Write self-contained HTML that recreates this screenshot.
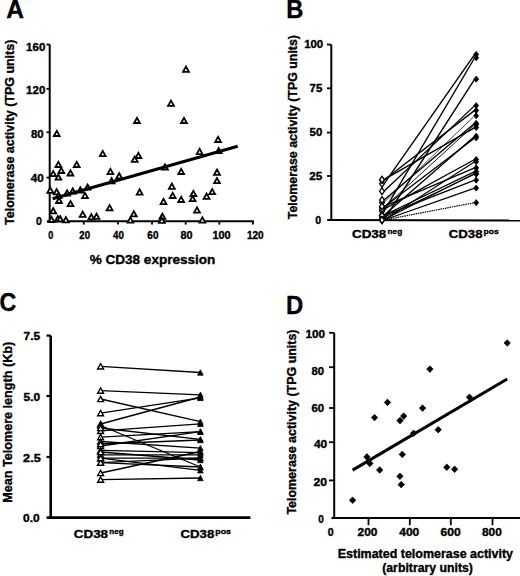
<!DOCTYPE html>
<html><head><meta charset="utf-8"><style>
html,body{margin:0;padding:0;background:#fff;width:520px;height:576px;overflow:hidden}
svg{display:block;font-family:"Liberation Sans",sans-serif}
</style></head><body>
<svg width="520" height="576" viewBox="0 0 520 576">
<rect width="520" height="576" fill="#fff"/>
<g><line x1="49.7" y1="44.5" x2="49.7" y2="222.3" stroke="#000" stroke-width="2"/><line x1="46.8" y1="221.3" x2="253.8" y2="221.3" stroke="#000" stroke-width="2"/><line x1="46.5" y1="44.5" x2="49.7" y2="44.5" stroke="#000" stroke-width="1.8"/><line x1="46.5" y1="88.8" x2="49.7" y2="88.8" stroke="#000" stroke-width="1.8"/><line x1="46.5" y1="132.3" x2="49.7" y2="132.3" stroke="#000" stroke-width="1.8"/><line x1="46.5" y1="177.6" x2="49.7" y2="177.6" stroke="#000" stroke-width="1.8"/><line x1="83.8" y1="221.3" x2="83.8" y2="224.6" stroke="#000" stroke-width="1.8"/><line x1="118.0" y1="221.3" x2="118.0" y2="224.6" stroke="#000" stroke-width="1.8"/><line x1="152.0" y1="221.3" x2="152.0" y2="224.6" stroke="#000" stroke-width="1.8"/><line x1="185.7" y1="221.3" x2="185.7" y2="224.6" stroke="#000" stroke-width="1.8"/><line x1="219.3" y1="221.3" x2="219.3" y2="224.6" stroke="#000" stroke-width="1.8"/><line x1="253.0" y1="221.3" x2="253.0" y2="224.6" stroke="#000" stroke-width="1.8"/><line x1="331.3" y1="44.6" x2="331.3" y2="220.9" stroke="#000" stroke-width="2"/><line x1="327.2" y1="220.0" x2="520" y2="220.5" stroke="#000" stroke-width="2"/><line x1="327.0" y1="44.6" x2="331.3" y2="44.6" stroke="#000" stroke-width="1.8"/><line x1="327.0" y1="88.3" x2="331.3" y2="88.3" stroke="#000" stroke-width="1.8"/><line x1="327.0" y1="132.6" x2="331.3" y2="132.6" stroke="#000" stroke-width="1.8"/><line x1="327.0" y1="176.0" x2="331.3" y2="176.0" stroke="#000" stroke-width="1.8"/><line x1="50.7" y1="335.6" x2="50.7" y2="518.8" stroke="#000" stroke-width="2.6"/><line x1="46.5" y1="517.6" x2="250.4" y2="517.6" stroke="#000" stroke-width="2.6"/><line x1="46.5" y1="335.6" x2="50.7" y2="335.6" stroke="#000" stroke-width="2.2"/><line x1="46.5" y1="396.0" x2="50.7" y2="396.0" stroke="#000" stroke-width="2.2"/><line x1="46.5" y1="457.0" x2="50.7" y2="457.0" stroke="#000" stroke-width="2.2"/><line x1="334.2" y1="332.8" x2="334.2" y2="519.0" stroke="#000" stroke-width="2"/><line x1="331.5" y1="518.0" x2="520" y2="518.0" stroke="#000" stroke-width="2"/><line x1="329.0" y1="332.8" x2="334.2" y2="332.8" stroke="#000" stroke-width="1.8"/><line x1="329.0" y1="367.2" x2="334.2" y2="367.2" stroke="#000" stroke-width="1.8"/><line x1="329.0" y1="408.0" x2="334.2" y2="408.0" stroke="#000" stroke-width="1.8"/><line x1="329.0" y1="442.2" x2="334.2" y2="442.2" stroke="#000" stroke-width="1.8"/><line x1="329.0" y1="480.4" x2="334.2" y2="480.4" stroke="#000" stroke-width="1.8"/><line x1="368.5" y1="518" x2="368.5" y2="525.2" stroke="#000" stroke-width="1.8"/><line x1="409.8" y1="518" x2="409.8" y2="525.2" stroke="#000" stroke-width="1.8"/><line x1="450.8" y1="518" x2="450.8" y2="525.2" stroke="#000" stroke-width="1.8"/><line x1="492.5" y1="518" x2="492.5" y2="525.2" stroke="#000" stroke-width="1.8"/></g>
<g><path d="M382.00 180.57 L384.40 183.87 L382.00 187.17 L379.60 183.87 Z" fill="#fff" stroke="#000" stroke-width="1.3"/><path d="M382.00 207.93 L384.40 211.23 L382.00 214.53 L379.60 211.23 Z" fill="#fff" stroke="#000" stroke-width="1.3"/><path d="M382.00 216.70 L384.40 220.00 L382.00 223.30 L379.60 220.00 Z" fill="#fff" stroke="#000" stroke-width="1.3"/><path d="M382.00 187.93 L384.40 191.23 L382.00 194.53 L379.60 191.23 Z" fill="#fff" stroke="#000" stroke-width="1.3"/><path d="M382.00 176.71 L384.40 180.01 L382.00 183.31 L379.60 180.01 Z" fill="#fff" stroke="#000" stroke-width="1.3"/><path d="M382.00 199.16 L384.40 202.46 L382.00 205.76 L379.60 202.46 Z" fill="#fff" stroke="#000" stroke-width="1.3"/><path d="M382.00 196.70 L384.40 200.00 L382.00 203.30 L379.60 200.00 Z" fill="#fff" stroke="#000" stroke-width="1.3"/><path d="M382.00 204.07 L384.40 207.37 L382.00 210.67 L379.60 207.37 Z" fill="#fff" stroke="#000" stroke-width="1.3"/><path d="M382.00 176.36 L384.40 179.66 L382.00 182.96 L379.60 179.66 Z" fill="#fff" stroke="#000" stroke-width="1.3"/><path d="M382.00 211.96 L384.40 215.26 L382.00 218.56 L379.60 215.26 Z" fill="#fff" stroke="#000" stroke-width="1.3"/><path d="M382.00 203.72 L384.40 207.02 L382.00 210.32 L379.60 207.02 Z" fill="#fff" stroke="#000" stroke-width="1.3"/><path d="M382.00 205.83 L384.40 209.13 L382.00 212.43 L379.60 209.13 Z" fill="#fff" stroke="#000" stroke-width="1.3"/><path d="M382.00 216.70 L384.40 220.00 L382.00 223.30 L379.60 220.00 Z" fill="#fff" stroke="#000" stroke-width="1.3"/><path d="M382.00 203.02 L384.40 206.32 L382.00 209.62 L379.60 206.32 Z" fill="#fff" stroke="#000" stroke-width="1.3"/><path d="M382.00 211.96 L384.40 215.26 L382.00 218.56 L379.60 215.26 Z" fill="#fff" stroke="#000" stroke-width="1.3"/><path d="M382.00 216.17 L384.40 219.47 L382.00 222.77 L379.60 219.47 Z" fill="#fff" stroke="#000" stroke-width="1.3"/><path d="M382.00 214.07 L384.40 217.37 L382.00 220.67 L379.60 217.37 Z" fill="#fff" stroke="#000" stroke-width="1.3"/><path d="M382.00 212.31 L384.40 215.62 L382.00 218.92 L379.60 215.62 Z" fill="#fff" stroke="#000" stroke-width="1.3"/><path d="M382.00 216.70 L384.40 220.00 L382.00 223.30 L379.60 220.00 Z" fill="#fff" stroke="#000" stroke-width="1.3"/><path d="M382.00 216.70 L384.40 220.00 L382.00 223.30 L379.60 220.00 Z" fill="#fff" stroke="#000" stroke-width="1.3"/></g>
<g><line x1="384.0" y1="183.87" x2="474.7" y2="54.42" stroke="#000" stroke-width="1.4"/><line x1="384.0" y1="211.23" x2="474.7" y2="57.75" stroke="#000" stroke-width="1.4"/><line x1="384.0" y1="220.00" x2="474.7" y2="79.15" stroke="#000" stroke-width="1.4"/><line x1="384.0" y1="191.23" x2="474.7" y2="105.64" stroke="#000" stroke-width="1.3"/><line x1="384.0" y1="180.01" x2="474.7" y2="110.38" stroke="#000" stroke-width="1.4"/><line x1="384.0" y1="202.46" x2="474.7" y2="115.81" stroke="#000" stroke-width="0.7"/><line x1="384.0" y1="200.00" x2="474.7" y2="123.35" stroke="#000" stroke-width="1.3"/><line x1="384.0" y1="207.37" x2="474.7" y2="124.76" stroke="#000" stroke-width="0.9"/><line x1="384.0" y1="179.66" x2="474.7" y2="127.56" stroke="#000" stroke-width="1.4"/><line x1="384.0" y1="215.26" x2="474.7" y2="136.16" stroke="#000" stroke-width="1.3"/><line x1="384.0" y1="207.02" x2="474.7" y2="137.91" stroke="#000" stroke-width="1.3"/><line x1="384.0" y1="209.13" x2="474.7" y2="159.49" stroke="#000" stroke-width="1.3"/><line x1="384.0" y1="220.00" x2="474.7" y2="161.77" stroke="#000" stroke-width="1.1"/><line x1="384.0" y1="206.32" x2="474.7" y2="167.91" stroke="#000" stroke-width="1.3"/><line x1="384.0" y1="215.26" x2="474.7" y2="171.59" stroke="#000" stroke-width="1.3"/><line x1="384.0" y1="219.47" x2="474.7" y2="173.52" stroke="#000" stroke-width="1.3"/><line x1="384.0" y1="217.37" x2="474.7" y2="174.22" stroke="#000" stroke-width="1.0"/><line x1="384.0" y1="215.62" x2="474.7" y2="180.18" stroke="#000" stroke-width="1.3"/><line x1="384.0" y1="220.00" x2="474.7" y2="188.08" stroke="#000" stroke-width="1.3"/><line x1="384.0" y1="220.00" x2="474.7" y2="202.64" stroke="#000" stroke-width="1.2" stroke-dasharray="1.5 0.8"/></g>
<g><line x1="100.6" y1="366.3" x2="200.4" y2="372.5" stroke="#000" stroke-width="1.35"/><line x1="100.6" y1="390.6" x2="200.4" y2="394.8" stroke="#000" stroke-width="1.35"/><line x1="100.6" y1="399.0" x2="200.4" y2="421.7" stroke="#000" stroke-width="1.35"/><line x1="100.6" y1="413.1" x2="200.4" y2="397.9" stroke="#000" stroke-width="1.35"/><line x1="100.6" y1="424.0" x2="200.4" y2="397.0" stroke="#000" stroke-width="1.35"/><line x1="100.6" y1="479.6" x2="200.4" y2="478.0" stroke="#000" stroke-width="1.35"/><line x1="100.6" y1="473.0" x2="200.4" y2="451.5" stroke="#000" stroke-width="1.35"/><line x1="100.6" y1="425.5" x2="200.4" y2="467.0" stroke="#000" stroke-width="1.35"/><line x1="100.6" y1="430.9" x2="200.4" y2="423.8" stroke="#000" stroke-width="1.35"/><line x1="100.6" y1="437.1" x2="200.4" y2="431.6" stroke="#000" stroke-width="1.35"/><line x1="100.6" y1="428.0" x2="200.4" y2="439.3" stroke="#000" stroke-width="1.35"/><line x1="100.6" y1="441.5" x2="200.4" y2="448.2" stroke="#000" stroke-width="1.35"/><line x1="100.6" y1="446.0" x2="200.4" y2="431.6" stroke="#000" stroke-width="1.35"/><line x1="100.6" y1="444.0" x2="200.4" y2="440.0" stroke="#000" stroke-width="1.35"/><line x1="100.6" y1="450.4" x2="200.4" y2="452.6" stroke="#000" stroke-width="1.35"/><line x1="100.6" y1="454.8" x2="200.4" y2="454.8" stroke="#000" stroke-width="1.35"/><line x1="100.6" y1="452.0" x2="200.4" y2="460.0" stroke="#000" stroke-width="1.35"/><line x1="100.6" y1="458.1" x2="200.4" y2="458.1" stroke="#000" stroke-width="1.35"/><line x1="100.6" y1="462.6" x2="200.4" y2="458.1" stroke="#000" stroke-width="1.35"/><line x1="100.6" y1="462.6" x2="200.4" y2="467.0" stroke="#000" stroke-width="1.35"/><line x1="100.6" y1="458.1" x2="200.4" y2="470.3" stroke="#000" stroke-width="1.35"/></g>
<g><path d="M55.50 167.00 L58.40 161.80 L61.30 167.00 Z" fill="#fff" stroke="#000" stroke-width="1.8" stroke-linejoin="miter"/><path d="M73.80 167.00 L76.70 161.80 L79.60 167.00 Z" fill="#fff" stroke="#000" stroke-width="1.8" stroke-linejoin="miter"/><path d="M58.40 173.00 L61.30 167.80 L64.20 173.00 Z" fill="#fff" stroke="#000" stroke-width="1.8" stroke-linejoin="miter"/><path d="M50.30 176.20 L53.20 171.00 L56.10 176.20 Z" fill="#fff" stroke="#000" stroke-width="1.8" stroke-linejoin="miter"/><path d="M67.60 175.50 L70.50 170.30 L73.40 175.50 Z" fill="#fff" stroke="#000" stroke-width="1.8" stroke-linejoin="miter"/><path d="M55.50 179.70 L58.40 174.50 L61.30 179.70 Z" fill="#fff" stroke="#000" stroke-width="1.8" stroke-linejoin="miter"/><path d="M47.40 192.80 L50.30 187.60 L53.20 192.80 Z" fill="#fff" stroke="#000" stroke-width="1.8" stroke-linejoin="miter"/><path d="M53.80 194.30 L56.70 189.10 L59.60 194.30 Z" fill="#fff" stroke="#000" stroke-width="1.8" stroke-linejoin="miter"/><path d="M64.20 195.50 L67.10 190.30 L70.00 195.50 Z" fill="#fff" stroke="#000" stroke-width="1.8" stroke-linejoin="miter"/><path d="M69.90 193.50 L72.80 188.30 L75.70 193.50 Z" fill="#fff" stroke="#000" stroke-width="1.8" stroke-linejoin="miter"/><path d="M77.40 192.60 L80.30 187.40 L83.20 192.60 Z" fill="#fff" stroke="#000" stroke-width="1.8" stroke-linejoin="miter"/><path d="M84.70 189.70 L87.60 184.50 L90.50 189.70 Z" fill="#fff" stroke="#000" stroke-width="1.8" stroke-linejoin="miter"/><path d="M82.10 198.10 L85.00 192.90 L87.90 198.10 Z" fill="#fff" stroke="#000" stroke-width="1.8" stroke-linejoin="miter"/><path d="M55.70 198.20 L58.60 193.00 L61.50 198.20 Z" fill="#fff" stroke="#000" stroke-width="1.8" stroke-linejoin="miter"/><path d="M56.10 203.00 L59.00 197.80 L61.90 203.00 Z" fill="#fff" stroke="#000" stroke-width="1.8" stroke-linejoin="miter"/><path d="M67.60 206.20 L70.50 201.00 L73.40 206.20 Z" fill="#fff" stroke="#000" stroke-width="1.8" stroke-linejoin="miter"/><path d="M50.30 213.40 L53.20 208.20 L56.10 213.40 Z" fill="#fff" stroke="#000" stroke-width="1.8" stroke-linejoin="miter"/><path d="M79.80 216.80 L82.70 211.60 L85.60 216.80 Z" fill="#fff" stroke="#000" stroke-width="1.8" stroke-linejoin="miter"/><path d="M88.40 219.40 L91.30 214.20 L94.20 219.40 Z" fill="#fff" stroke="#000" stroke-width="1.8" stroke-linejoin="miter"/><path d="M93.60 218.90 L96.50 213.70 L99.40 218.90 Z" fill="#fff" stroke="#000" stroke-width="1.8" stroke-linejoin="miter"/><path d="M48.60 222.00 L51.50 216.80 L54.40 222.00 Z" fill="#fff" stroke="#000" stroke-width="1.8" stroke-linejoin="miter"/><path d="M54.90 221.40 L57.80 216.20 L60.70 221.40 Z" fill="#fff" stroke="#000" stroke-width="1.8" stroke-linejoin="miter"/><path d="M57.30 221.40 L60.20 216.20 L63.10 221.40 Z" fill="#fff" stroke="#000" stroke-width="1.8" stroke-linejoin="miter"/><path d="M63.00 222.30 L65.90 217.10 L68.80 222.30 Z" fill="#fff" stroke="#000" stroke-width="1.8" stroke-linejoin="miter"/><path d="M53.90 136.00 L56.80 130.80 L59.70 136.00 Z" fill="#fff" stroke="#000" stroke-width="1.8" stroke-linejoin="miter"/><path d="M99.80 156.10 L102.70 150.90 L105.60 156.10 Z" fill="#fff" stroke="#000" stroke-width="1.8" stroke-linejoin="miter"/><path d="M135.50 158.00 L138.40 152.80 L141.30 158.00 Z" fill="#fff" stroke="#000" stroke-width="1.8" stroke-linejoin="miter"/><path d="M131.80 161.80 L134.70 156.60 L137.60 161.80 Z" fill="#fff" stroke="#000" stroke-width="1.8" stroke-linejoin="miter"/><path d="M107.50 174.10 L110.40 168.90 L113.30 174.10 Z" fill="#fff" stroke="#000" stroke-width="1.8" stroke-linejoin="miter"/><path d="M116.30 178.40 L119.20 173.20 L122.10 178.40 Z" fill="#fff" stroke="#000" stroke-width="1.8" stroke-linejoin="miter"/><path d="M108.70 183.40 L111.60 178.20 L114.50 183.40 Z" fill="#fff" stroke="#000" stroke-width="1.8" stroke-linejoin="miter"/><path d="M136.70 194.60 L139.60 189.40 L142.50 194.60 Z" fill="#fff" stroke="#000" stroke-width="1.8" stroke-linejoin="miter"/><path d="M106.70 210.30 L109.60 205.10 L112.50 210.30 Z" fill="#fff" stroke="#000" stroke-width="1.8" stroke-linejoin="miter"/><path d="M130.90 216.40 L133.80 211.20 L136.70 216.40 Z" fill="#fff" stroke="#000" stroke-width="1.8" stroke-linejoin="miter"/><path d="M127.50 222.60 L130.40 217.40 L133.30 222.60 Z" fill="#fff" stroke="#000" stroke-width="1.8" stroke-linejoin="miter"/><path d="M134.10 123.00 L137.00 117.80 L139.90 123.00 Z" fill="#fff" stroke="#000" stroke-width="1.8" stroke-linejoin="miter"/><path d="M162.10 169.50 L165.00 164.30 L167.90 169.50 Z" fill="#fff" stroke="#000" stroke-width="1.8" stroke-linejoin="miter"/><path d="M169.00 188.80 L171.90 183.60 L174.80 188.80 Z" fill="#fff" stroke="#000" stroke-width="1.8" stroke-linejoin="miter"/><path d="M169.80 198.00 L172.70 192.80 L175.60 198.00 Z" fill="#fff" stroke="#000" stroke-width="1.8" stroke-linejoin="miter"/><path d="M160.60 204.10 L163.50 198.90 L166.40 204.10 Z" fill="#fff" stroke="#000" stroke-width="1.8" stroke-linejoin="miter"/><path d="M159.50 218.80 L162.40 213.60 L165.30 218.80 Z" fill="#fff" stroke="#000" stroke-width="1.8" stroke-linejoin="miter"/><path d="M159.00 222.90 L161.90 217.70 L164.80 222.90 Z" fill="#fff" stroke="#000" stroke-width="1.8" stroke-linejoin="miter"/><path d="M181.10 123.00 L184.00 117.80 L186.90 123.00 Z" fill="#fff" stroke="#000" stroke-width="1.8" stroke-linejoin="miter"/><path d="M215.20 142.00 L218.10 136.80 L221.00 142.00 Z" fill="#fff" stroke="#000" stroke-width="1.8" stroke-linejoin="miter"/><path d="M196.70 154.10 L199.60 148.90 L202.50 154.10 Z" fill="#fff" stroke="#000" stroke-width="1.8" stroke-linejoin="miter"/><path d="M215.80 153.20 L218.70 148.00 L221.60 153.20 Z" fill="#fff" stroke="#000" stroke-width="1.8" stroke-linejoin="miter"/><path d="M178.30 174.00 L181.20 168.80 L184.10 174.00 Z" fill="#fff" stroke="#000" stroke-width="1.8" stroke-linejoin="miter"/><path d="M214.10 174.80 L217.00 169.60 L219.90 174.80 Z" fill="#fff" stroke="#000" stroke-width="1.8" stroke-linejoin="miter"/><path d="M214.10 183.20 L217.00 178.00 L219.90 183.20 Z" fill="#fff" stroke="#000" stroke-width="1.8" stroke-linejoin="miter"/><path d="M190.50 196.00 L193.40 190.80 L196.30 196.00 Z" fill="#fff" stroke="#000" stroke-width="1.8" stroke-linejoin="miter"/><path d="M189.70 201.20 L192.60 196.00 L195.50 201.20 Z" fill="#fff" stroke="#000" stroke-width="1.8" stroke-linejoin="miter"/><path d="M178.30 202.00 L181.20 196.80 L184.10 202.00 Z" fill="#fff" stroke="#000" stroke-width="1.8" stroke-linejoin="miter"/><path d="M203.70 198.80 L206.60 193.60 L209.50 198.80 Z" fill="#fff" stroke="#000" stroke-width="1.8" stroke-linejoin="miter"/><path d="M209.30 194.20 L212.20 189.00 L215.10 194.20 Z" fill="#fff" stroke="#000" stroke-width="1.8" stroke-linejoin="miter"/><path d="M194.10 212.60 L197.00 207.40 L199.90 212.60 Z" fill="#fff" stroke="#000" stroke-width="1.8" stroke-linejoin="miter"/><path d="M199.50 222.60 L202.40 217.40 L205.30 222.60 Z" fill="#fff" stroke="#000" stroke-width="1.8" stroke-linejoin="miter"/><path d="M183.10 71.80 L186.00 66.60 L188.90 71.80 Z" fill="#fff" stroke="#000" stroke-width="1.8" stroke-linejoin="miter"/><path d="M168.10 105.80 L171.00 100.60 L173.90 105.80 Z" fill="#fff" stroke="#000" stroke-width="1.8" stroke-linejoin="miter"/></g>
<line x1="52.6" y1="198.8" x2="237.7" y2="146.3" stroke="#000" stroke-width="3"/>
<g><path d="M476.20 51.42 L478.60 54.42 L476.20 57.42 L473.80 54.42 Z" fill="#000" stroke="#000" stroke-width="0.9"/><path d="M476.20 54.75 L478.60 57.75 L476.20 60.75 L473.80 57.75 Z" fill="#000" stroke="#000" stroke-width="0.9"/><path d="M476.20 76.15 L478.60 79.15 L476.20 82.15 L473.80 79.15 Z" fill="#000" stroke="#000" stroke-width="0.9"/><path d="M476.20 102.64 L478.60 105.64 L476.20 108.64 L473.80 105.64 Z" fill="#000" stroke="#000" stroke-width="0.9"/><path d="M476.20 107.38 L478.60 110.38 L476.20 113.38 L473.80 110.38 Z" fill="#000" stroke="#000" stroke-width="0.9"/><path d="M476.20 112.81 L478.60 115.81 L476.20 118.81 L473.80 115.81 Z" fill="#000" stroke="#000" stroke-width="0.9"/><path d="M476.20 120.35 L478.60 123.35 L476.20 126.35 L473.80 123.35 Z" fill="#000" stroke="#000" stroke-width="0.9"/><path d="M476.20 121.76 L478.60 124.76 L476.20 127.76 L473.80 124.76 Z" fill="#000" stroke="#000" stroke-width="0.9"/><path d="M476.20 124.56 L478.60 127.56 L476.20 130.56 L473.80 127.56 Z" fill="#000" stroke="#000" stroke-width="0.9"/><path d="M476.20 133.16 L478.60 136.16 L476.20 139.16 L473.80 136.16 Z" fill="#000" stroke="#000" stroke-width="0.9"/><path d="M476.20 134.91 L478.60 137.91 L476.20 140.91 L473.80 137.91 Z" fill="#000" stroke="#000" stroke-width="0.9"/><path d="M476.20 156.49 L478.60 159.49 L476.20 162.49 L473.80 159.49 Z" fill="#000" stroke="#000" stroke-width="0.9"/><path d="M476.20 158.77 L478.60 161.77 L476.20 164.77 L473.80 161.77 Z" fill="#000" stroke="#000" stroke-width="0.9"/><path d="M476.20 164.91 L478.60 167.91 L476.20 170.91 L473.80 167.91 Z" fill="#000" stroke="#000" stroke-width="0.9"/><path d="M476.20 168.59 L478.60 171.59 L476.20 174.59 L473.80 171.59 Z" fill="#000" stroke="#000" stroke-width="0.9"/><path d="M476.20 170.52 L478.60 173.52 L476.20 176.52 L473.80 173.52 Z" fill="#000" stroke="#000" stroke-width="0.9"/><path d="M476.20 171.22 L478.60 174.22 L476.20 177.22 L473.80 174.22 Z" fill="#000" stroke="#000" stroke-width="0.9"/><path d="M476.20 177.18 L478.60 180.18 L476.20 183.18 L473.80 180.18 Z" fill="#000" stroke="#000" stroke-width="0.9"/><path d="M476.20 185.08 L478.60 188.08 L476.20 191.08 L473.80 188.08 Z" fill="#000" stroke="#000" stroke-width="0.9"/><path d="M476.20 199.64 L478.60 202.64 L476.20 205.64 L473.80 202.64 Z" fill="#000" stroke="#000" stroke-width="0.9"/></g>
<g><path d="M97.65 368.95 L100.60 363.65 L103.55 368.95 Z" fill="#fff" stroke="#000" stroke-width="1.4" stroke-linejoin="miter"/><path d="M97.65 393.25 L100.60 387.95 L103.55 393.25 Z" fill="#fff" stroke="#000" stroke-width="1.4" stroke-linejoin="miter"/><path d="M97.65 401.65 L100.60 396.35 L103.55 401.65 Z" fill="#fff" stroke="#000" stroke-width="1.4" stroke-linejoin="miter"/><path d="M97.65 415.75 L100.60 410.45 L103.55 415.75 Z" fill="#fff" stroke="#000" stroke-width="1.4" stroke-linejoin="miter"/><path d="M97.65 426.65 L100.60 421.35 L103.55 426.65 Z" fill="#fff" stroke="#000" stroke-width="1.4" stroke-linejoin="miter"/><path d="M97.65 482.25 L100.60 476.95 L103.55 482.25 Z" fill="#fff" stroke="#000" stroke-width="1.4" stroke-linejoin="miter"/><path d="M97.65 475.65 L100.60 470.35 L103.55 475.65 Z" fill="#fff" stroke="#000" stroke-width="1.4" stroke-linejoin="miter"/><path d="M97.65 428.15 L100.60 422.85 L103.55 428.15 Z" fill="#fff" stroke="#000" stroke-width="1.4" stroke-linejoin="miter"/><path d="M97.65 433.55 L100.60 428.25 L103.55 433.55 Z" fill="#fff" stroke="#000" stroke-width="1.4" stroke-linejoin="miter"/><path d="M97.65 439.75 L100.60 434.45 L103.55 439.75 Z" fill="#fff" stroke="#000" stroke-width="1.4" stroke-linejoin="miter"/><path d="M97.65 430.65 L100.60 425.35 L103.55 430.65 Z" fill="#fff" stroke="#000" stroke-width="1.4" stroke-linejoin="miter"/><path d="M97.65 444.15 L100.60 438.85 L103.55 444.15 Z" fill="#fff" stroke="#000" stroke-width="1.4" stroke-linejoin="miter"/><path d="M97.65 448.65 L100.60 443.35 L103.55 448.65 Z" fill="#fff" stroke="#000" stroke-width="1.4" stroke-linejoin="miter"/><path d="M97.65 446.65 L100.60 441.35 L103.55 446.65 Z" fill="#fff" stroke="#000" stroke-width="1.4" stroke-linejoin="miter"/><path d="M97.65 453.05 L100.60 447.75 L103.55 453.05 Z" fill="#fff" stroke="#000" stroke-width="1.4" stroke-linejoin="miter"/><path d="M97.65 457.45 L100.60 452.15 L103.55 457.45 Z" fill="#fff" stroke="#000" stroke-width="1.4" stroke-linejoin="miter"/><path d="M97.65 454.65 L100.60 449.35 L103.55 454.65 Z" fill="#fff" stroke="#000" stroke-width="1.4" stroke-linejoin="miter"/><path d="M97.65 460.75 L100.60 455.45 L103.55 460.75 Z" fill="#fff" stroke="#000" stroke-width="1.4" stroke-linejoin="miter"/><path d="M97.65 465.25 L100.60 459.95 L103.55 465.25 Z" fill="#fff" stroke="#000" stroke-width="1.4" stroke-linejoin="miter"/><path d="M97.65 465.25 L100.60 459.95 L103.55 465.25 Z" fill="#fff" stroke="#000" stroke-width="1.4" stroke-linejoin="miter"/><path d="M97.65 460.75 L100.60 455.45 L103.55 460.75 Z" fill="#fff" stroke="#000" stroke-width="1.4" stroke-linejoin="miter"/><path d="M197.60 375.20 L200.40 369.80 L203.20 375.20 Z" fill="#000" stroke="#000" stroke-width="0.8" stroke-linejoin="miter"/><path d="M197.60 397.50 L200.40 392.10 L203.20 397.50 Z" fill="#000" stroke="#000" stroke-width="0.8" stroke-linejoin="miter"/><path d="M197.60 424.40 L200.40 419.00 L203.20 424.40 Z" fill="#000" stroke="#000" stroke-width="0.8" stroke-linejoin="miter"/><path d="M197.60 400.60 L200.40 395.20 L203.20 400.60 Z" fill="#000" stroke="#000" stroke-width="0.8" stroke-linejoin="miter"/><path d="M197.60 399.70 L200.40 394.30 L203.20 399.70 Z" fill="#000" stroke="#000" stroke-width="0.8" stroke-linejoin="miter"/><path d="M197.60 480.70 L200.40 475.30 L203.20 480.70 Z" fill="#000" stroke="#000" stroke-width="0.8" stroke-linejoin="miter"/><path d="M197.60 454.20 L200.40 448.80 L203.20 454.20 Z" fill="#000" stroke="#000" stroke-width="0.8" stroke-linejoin="miter"/><path d="M197.60 469.70 L200.40 464.30 L203.20 469.70 Z" fill="#000" stroke="#000" stroke-width="0.8" stroke-linejoin="miter"/><path d="M197.60 426.50 L200.40 421.10 L203.20 426.50 Z" fill="#000" stroke="#000" stroke-width="0.8" stroke-linejoin="miter"/><path d="M197.60 434.30 L200.40 428.90 L203.20 434.30 Z" fill="#000" stroke="#000" stroke-width="0.8" stroke-linejoin="miter"/><path d="M197.60 442.00 L200.40 436.60 L203.20 442.00 Z" fill="#000" stroke="#000" stroke-width="0.8" stroke-linejoin="miter"/><path d="M197.60 450.90 L200.40 445.50 L203.20 450.90 Z" fill="#000" stroke="#000" stroke-width="0.8" stroke-linejoin="miter"/><path d="M197.60 434.30 L200.40 428.90 L203.20 434.30 Z" fill="#000" stroke="#000" stroke-width="0.8" stroke-linejoin="miter"/><path d="M197.60 442.70 L200.40 437.30 L203.20 442.70 Z" fill="#000" stroke="#000" stroke-width="0.8" stroke-linejoin="miter"/><path d="M197.60 455.30 L200.40 449.90 L203.20 455.30 Z" fill="#000" stroke="#000" stroke-width="0.8" stroke-linejoin="miter"/><path d="M197.60 457.50 L200.40 452.10 L203.20 457.50 Z" fill="#000" stroke="#000" stroke-width="0.8" stroke-linejoin="miter"/><path d="M197.60 462.70 L200.40 457.30 L203.20 462.70 Z" fill="#000" stroke="#000" stroke-width="0.8" stroke-linejoin="miter"/><path d="M197.60 460.80 L200.40 455.40 L203.20 460.80 Z" fill="#000" stroke="#000" stroke-width="0.8" stroke-linejoin="miter"/><path d="M197.60 460.80 L200.40 455.40 L203.20 460.80 Z" fill="#000" stroke="#000" stroke-width="0.8" stroke-linejoin="miter"/><path d="M197.60 469.70 L200.40 464.30 L203.20 469.70 Z" fill="#000" stroke="#000" stroke-width="0.8" stroke-linejoin="miter"/><path d="M197.60 473.00 L200.40 467.60 L203.20 473.00 Z" fill="#000" stroke="#000" stroke-width="0.8" stroke-linejoin="miter"/></g>
<line x1="352.6" y1="470.1" x2="507.2" y2="379.0" stroke="#000" stroke-width="3"/>
<g><path d="M352.60 496.90 L355.80 500.20 L352.60 503.50 L349.40 500.20 Z" fill="#000" stroke="#000" stroke-width="0.7"/><path d="M366.90 453.60 L370.10 456.90 L366.90 460.20 L363.70 456.90 Z" fill="#000" stroke="#000" stroke-width="0.7"/><path d="M369.80 460.10 L373.00 463.40 L369.80 466.70 L366.60 463.40 Z" fill="#000" stroke="#000" stroke-width="0.7"/><path d="M374.50 414.30 L377.70 417.60 L374.50 420.90 L371.30 417.60 Z" fill="#000" stroke="#000" stroke-width="0.7"/><path d="M379.70 466.70 L382.90 470.00 L379.70 473.30 L376.50 470.00 Z" fill="#000" stroke="#000" stroke-width="0.7"/><path d="M387.50 399.10 L390.70 402.40 L387.50 405.70 L384.30 402.40 Z" fill="#000" stroke="#000" stroke-width="0.7"/><path d="M399.90 473.00 L403.10 476.30 L399.90 479.60 L396.70 476.30 Z" fill="#000" stroke="#000" stroke-width="0.7"/><path d="M401.20 481.30 L404.40 484.60 L401.20 487.90 L398.00 484.60 Z" fill="#000" stroke="#000" stroke-width="0.7"/><path d="M400.00 417.30 L403.20 420.60 L400.00 423.90 L396.80 420.60 Z" fill="#000" stroke="#000" stroke-width="0.7"/><path d="M403.70 412.80 L406.90 416.10 L403.70 419.40 L400.50 416.10 Z" fill="#000" stroke="#000" stroke-width="0.7"/><path d="M402.30 451.10 L405.50 454.40 L402.30 457.70 L399.10 454.40 Z" fill="#000" stroke="#000" stroke-width="0.7"/><path d="M413.60 430.00 L416.80 433.30 L413.60 436.60 L410.40 433.30 Z" fill="#000" stroke="#000" stroke-width="0.7"/><path d="M422.60 404.80 L425.80 408.10 L422.60 411.40 L419.40 408.10 Z" fill="#000" stroke="#000" stroke-width="0.7"/><path d="M429.90 365.80 L433.10 369.10 L429.90 372.40 L426.70 369.10 Z" fill="#000" stroke="#000" stroke-width="0.7"/><path d="M438.20 426.40 L441.40 429.70 L438.20 433.00 L435.00 429.70 Z" fill="#000" stroke="#000" stroke-width="0.7"/><path d="M446.80 463.90 L450.00 467.20 L446.80 470.50 L443.60 467.20 Z" fill="#000" stroke="#000" stroke-width="0.7"/><path d="M454.60 466.00 L457.80 469.30 L454.60 472.60 L451.40 469.30 Z" fill="#000" stroke="#000" stroke-width="0.7"/><path d="M469.50 393.90 L472.70 397.20 L469.50 400.50 L466.30 397.20 Z" fill="#000" stroke="#000" stroke-width="0.7"/><path d="M507.20 339.70 L510.40 343.00 L507.20 346.30 L504.00 343.00 Z" fill="#000" stroke="#000" stroke-width="0.7"/></g>
<g font-family="Liberation Sans, sans-serif" font-weight="bold" fill="#000" stroke="#000" stroke-width="0.35" stroke-linejoin="round">
<text transform="translate(6.13 17.70) scale(0.946 1)" font-size="26">A</text>
<text transform="translate(26.07 50.50) scale(1.153 1)" font-size="10">160</text>
<text transform="translate(26.07 94.30) scale(1.153 1)" font-size="10">120</text>
<text transform="translate(31.01 138.30) scale(1.144 1)" font-size="10">80</text>
<text transform="translate(30.80 181.80) scale(1.164 1)" font-size="10">40</text>
<text transform="translate(35.93 225.00) scale(1.060 1)" font-size="10">0</text>
<text transform="translate(48.27 238.80) scale(0.900 1)" font-size="10">0</text>
<text transform="translate(79.36 238.80) scale(0.958 1)" font-size="10">20</text>
<text transform="translate(113.10 238.80) scale(0.973 1)" font-size="10">40</text>
<text transform="translate(147.35 238.80) scale(1.000 1)" font-size="10">60</text>
<text transform="translate(180.53 238.80) scale(1.088 1)" font-size="10">80</text>
<text transform="translate(212.45 238.80) scale(1.094 1)" font-size="10">100</text>
<text transform="translate(246.90 238.80) scale(1.000 1)" font-size="10">120</text>
<text transform="translate(89.64 264.00) scale(1.044 1)" font-size="13">% CD38 expression</text>
<text transform="translate(286.13 18.00) scale(0.911 1)" font-size="26">B</text>
<text transform="translate(304.13 48.30) scale(1.144 1)" font-size="10">100</text>
<text transform="translate(309.61 92.20) scale(1.144 1)" font-size="10">75</text>
<text transform="translate(309.61 136.10) scale(1.144 1)" font-size="10">50</text>
<text transform="translate(309.21 180.20) scale(1.172 1)" font-size="10">25</text>
<text transform="translate(315.33 224.00) scale(1.060 1)" font-size="10">0</text>
<text transform="translate(352.01 238.00) scale(1.166 1)" font-size="11.5">CD38</text>
<text transform="translate(387.54 233.70) scale(1.030 1)" font-size="8">neg</text>
<text transform="translate(448.81 238.00) scale(1.148 1)" font-size="11.5">CD38</text>
<text transform="translate(483.43 233.70) scale(1.076 1)" font-size="8">pos</text>
<text transform="translate(-0.49 311.00) scale(0.893 1)" font-size="26">C</text>
<text transform="translate(23.50 340.30) scale(1.193 1)" font-size="10">7.5</text>
<text transform="translate(23.50 401.10) scale(1.193 1)" font-size="10">5.0</text>
<text transform="translate(23.08 461.80) scale(1.274 1)" font-size="10">2.5</text>
<text transform="translate(23.00 522.20) scale(1.193 1)" font-size="10">0.0</text>
<text transform="translate(73.81 538.20) scale(1.166 1)" font-size="11.5">CD38</text>
<text transform="translate(109.35 533.90) scale(1.000 1)" font-size="8">neg</text>
<text transform="translate(180.51 538.20) scale(1.148 1)" font-size="11.5">CD38</text>
<text transform="translate(215.22 533.90) scale(1.113 1)" font-size="8">pos</text>
<text transform="translate(286.12 313.50) scale(0.923 1)" font-size="26">D</text>
<text transform="translate(305.41 337.50) scale(1.175 1)" font-size="10">100</text>
<text transform="translate(311.42 374.80) scale(1.135 1)" font-size="10">80</text>
<text transform="translate(311.42 411.50) scale(1.135 1)" font-size="10">60</text>
<text transform="translate(313.90 448.30) scale(1.191 1)" font-size="10">40</text>
<text transform="translate(313.60 486.20) scale(1.219 1)" font-size="10">20</text>
<text transform="translate(318.35 523.00) scale(1.000 1)" font-size="10">0</text>
<text transform="translate(327.83 535.50) scale(1.060 1)" font-size="10">0</text>
<text transform="translate(357.60 535.50) scale(1.194 1)" font-size="10">200</text>
<text transform="translate(399.20 535.50) scale(1.206 1)" font-size="10">400</text>
<text transform="translate(440.40 535.50) scale(1.212 1)" font-size="10">600</text>
<text transform="translate(482.00 535.50) scale(1.188 1)" font-size="10">800</text>
<text transform="translate(337.74 558.30) scale(1.015 1)" font-size="12.3">Estimated telomerase activity</text>
<text transform="translate(382.20 571.70) scale(0.999 1)" font-size="12.3">(arbitrary units)</text>
<text transform="translate(13.50 224.90) rotate(-90) scale(0.997 1)" font-size="12.5">Telomerase activity (TPG units)</text>
<text transform="translate(296.60 219.20) rotate(-90) scale(0.991 1)" font-size="12.5">Telomerase activity (TPG units)</text>
<text transform="translate(11.60 502.76) rotate(-90) scale(1.010 1)" font-size="12.5">Mean Telomere length (Kb)</text>
<text transform="translate(296.40 514.60) rotate(-90) scale(0.996 1)" font-size="12.5">Telomerase activity (TPG units)</text>
</g>
</svg>
</body></html>
